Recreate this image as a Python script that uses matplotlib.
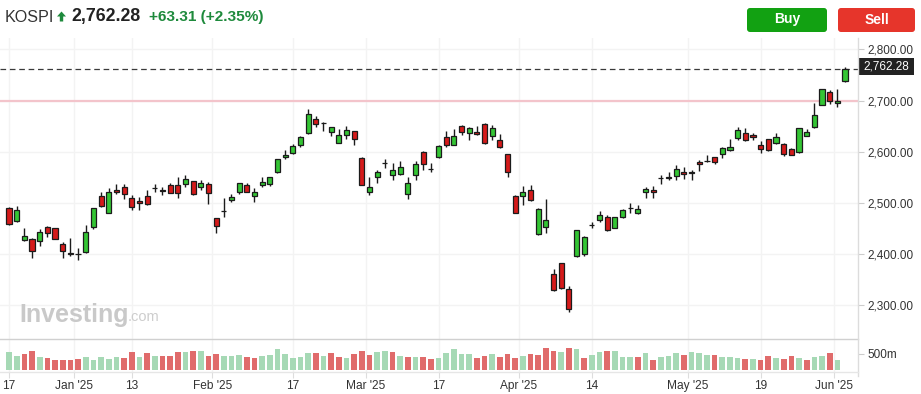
import matplotlib
matplotlib.use("Agg")
import matplotlib.pyplot as plt
from matplotlib.patches import FancyBboxPatch, Rectangle, Polygon
from matplotlib.transforms import IdentityTransform

# ---------------- data ----------------
dates = ["Dec 17", "Dec 18", "Dec 19", "Dec 20", "Dec 23", "Dec 24", "Dec 26", "Dec 27", "Dec 30",
         "Jan 2", "Jan 3", "Jan 6", "Jan 7", "Jan 8", "Jan 9", "Jan 10", "Jan 13", "Jan 14", "Jan 15",
         "Jan 16", "Jan 17", "Jan 20", "Jan 21", "Jan 22", "Jan 23", "Jan 24", "Jan 31",
         "Feb 3", "Feb 4", "Feb 5", "Feb 6", "Feb 7", "Feb 10", "Feb 11", "Feb 12", "Feb 13", "Feb 14",
         "Feb 17", "Feb 18", "Feb 19", "Feb 20", "Feb 21", "Feb 24", "Feb 25", "Feb 26", "Feb 27", "Feb 28",
         "Mar 4", "Mar 5", "Mar 6", "Mar 7", "Mar 10", "Mar 11", "Mar 12", "Mar 13", "Mar 14", "Mar 17",
         "Mar 18", "Mar 19", "Mar 20", "Mar 21", "Mar 24", "Mar 25", "Mar 26", "Mar 27", "Mar 28", "Mar 31",
         "Apr 1", "Apr 2", "Apr 3", "Apr 4", "Apr 7", "Apr 8", "Apr 9", "Apr 10", "Apr 11", "Apr 14",
         "Apr 15", "Apr 16", "Apr 17", "Apr 18", "Apr 21", "Apr 22", "Apr 23", "Apr 24", "Apr 25", "Apr 28",
         "Apr 29", "Apr 30", "May 2", "May 7", "May 8", "May 9", "May 12", "May 13", "May 14", "May 15",
         "May 16", "May 19", "May 20", "May 21", "May 22", "May 23", "May 26", "May 27", "May 28", "May 29",
         "May 30", "Jun 2", "Jun 4"]

opens = [2489, 2464, 2427, 2430, 2425, 2452, 2450, 2420, 2401,
         2399, 2403, 2453, 2514, 2481, 2526, 2530, 2509, 2504, 2513,
         2528, 2525, 2534, 2534, 2536, 2542, 2530, 2536,
         2470, 2483, 2505, 2522, 2534, 2513, 2534, 2536, 2560, 2589,
         2597, 2614, 2636, 2664, 2656, 2638, 2618, 2632, 2640, 2588,
         2522, 2550, 2578, 2554, 2556, 2518, 2554, 2599, 2567, 2589,
         2628, 2614, 2650, 2636, 2638, 2655, 2630, 2622, 2595, 2514,
         2513, 2526, 2438, 2453, 2360, 2382, 2331, 2395, 2400, 2456,
         2466, 2473, 2451, 2473, 2490, 2481, 2522, 2525, 2548, 2551,
         2552, 2561, 2558, 2579, 2581, 2589, 2595, 2603, 2626, 2636,
         2632, 2614, 2624, 2618, 2616, 2605, 2600, 2631, 2649, 2692,
         2716, 2695, 2739]

highs = [2491, 2493, 2451, 2431, 2448, 2455, 2451, 2424, 2431,
         2411, 2456, 2490, 2522, 2528, 2536, 2536, 2515, 2512, 2526,
         2537, 2530, 2539, 2550, 2554, 2543, 2544, 2541,
         2471, 2509, 2517, 2538, 2539, 2528, 2550, 2550, 2585, 2603,
         2615, 2631, 2684, 2670, 2658, 2648, 2644, 2650, 2641, 2589,
         2550, 2564, 2586, 2577, 2581, 2550, 2581, 2601, 2577, 2613,
         2640, 2644, 2652, 2649, 2650, 2657, 2652, 2635, 2596, 2515,
         2532, 2534, 2490, 2508, 2370, 2383, 2338, 2447, 2435, 2462,
         2484, 2477, 2473, 2488, 2499, 2495, 2530, 2532, 2554, 2560,
         2573, 2571, 2564, 2584, 2593, 2590, 2610, 2624, 2648, 2646,
         2636, 2621, 2625, 2636, 2617, 2607, 2646, 2644, 2695, 2723,
         2720, 2723, 2766]

lows = [2456, 2463, 2425, 2391, 2416, 2434, 2429, 2391, 2395,
        2388, 2402, 2449, 2492, 2480, 2518, 2508, 2486, 2485, 2495,
        2522, 2516, 2519, 2509, 2530, 2516, 2525, 2498,
        2440, 2473, 2501, 2518, 2522, 2502, 2530, 2532, 2559, 2586,
        2596, 2609, 2635, 2649, 2641, 2630, 2617, 2624, 2614, 2534,
        2516, 2538, 2569, 2544, 2555, 2508, 2544, 2564, 2561, 2588,
        2610, 2613, 2632, 2622, 2632, 2616, 2622, 2607, 2551, 2480,
        2496, 2503, 2437, 2440, 2328, 2331, 2286, 2393, 2396, 2451,
        2463, 2445, 2450, 2470, 2481, 2479, 2510, 2510, 2537, 2545,
        2545, 2547, 2544, 2562, 2579, 2575, 2588, 2602, 2622, 2621,
        2622, 2597, 2601, 2616, 2591, 2593, 2598, 2630, 2647, 2691,
        2693, 2688, 2737]

closes = [2458, 2485, 2436, 2405, 2442, 2440, 2430, 2405, 2399.5,
          2399, 2442, 2489, 2493, 2521, 2522, 2517, 2491, 2499, 2497,
          2528, 2523, 2520, 2519, 2547, 2517, 2538, 2519,
          2454, 2483, 2511, 2538, 2522, 2521.3, 2541, 2550, 2585, 2593,
          2612, 2628, 2673, 2655, 2656, 2648, 2632, 2642, 2624, 2534,
          2530, 2560, 2577, 2565, 2571, 2538, 2575, 2575, 2567, 2612,
          2614, 2630, 2638, 2646, 2634, 2618, 2646, 2609, 2560, 2481,
          2522, 2506, 2488, 2466, 2329, 2334, 2293, 2446, 2433, 2456,
          2477, 2447, 2472, 2485, 2489, 2487, 2527, 2522, 2548, 2549,
          2567, 2557, 2561, 2575, 2581, 2579, 2608, 2610, 2642, 2622,
          2628, 2605, 2603, 2628, 2595, 2593, 2646, 2638, 2671, 2722,
          2700, 2699, 2762.28]

# volume in millions of shares
volumes = [554, 436, 490, 586, 395, 363, 300, 300, 300,
           331, 395, 300, 395, 331, 395, 363, 554, 395, 522,
           436, 436, 436, 554, 554, 586, 586, 436,
           490, 436, 436, 459, 395, 363, 436, 459, 650, 490,
           363, 395, 522, 522, 436, 522, 395, 363, 490, 586,
           459, 554, 586, 554, 436, 395, 395, 395, 331, 363,
           522, 650, 490, 490, 363, 436, 490, 395, 490, 363,
           436, 490, 459, 681, 586, 554, 681, 650, 363, 459,
           554, 586, 586, 395, 395, 395, 522, 300, 395, 436,
           522, 459, 554, 522, 459, 459, 395, 395, 363, 331,
           331, 300, 427, 363, 331, 427, 363, 300, 395, 427,
           522, 300, 0]
# volume bar colour: 1 = up (green), 0 = down (red)
vol_up = [1, 1, 0, 0, 1, 0, 0, 0, 0,
          0, 1, 1, 1, 1, 1, 0, 0, 1, 0,
          1, 0, 0, 0, 1, 0, 1, 0,
          0, 1, 1, 1, 0, 0, 1, 1, 1, 1,
          1, 1, 1, 0, 1, 0, 0, 1, 0, 0,
          0, 1, 1, 0, 1, 0, 1, 0, 0, 1,
          1, 1, 1, 1, 0, 0, 1, 0, 0, 0,
          1, 0, 0, 0, 0, 1, 0, 1, 0, 1,
          1, 0, 1, 1, 1, 0, 1, 0, 1, 1,
          1, 0, 1, 1, 1, 0, 1, 1, 1, 0,
          1, 0, 0, 1, 0, 0, 1, 0, 1, 1,
          0, 1, 1]

price_ticks = [2300, 2400, 2500, 2600, 2700, 2800]
x_tick_labels = ["17", "Jan '25", "13", "Feb '25", "17", "Mar '25", "17", "Apr '25", "14", "May '25", "19", "Jun '25"]
x_tick_dates = ["Dec 17", "Jan 2", "Jan 13", "Feb 3", "Feb 17", "Mar 4", "Mar 17", "Apr 1", "Apr 14", "May 2", "May 19", "Jun 2"]
x_tick_is_month = [0, 1, 0, 1, 0, 1, 0, 1, 0, 1, 0, 1]

symbol = "KOSPI"
last_price = 2762.28
prev_close = 2698.97
change = 63.31
change_pct = 2.35

# ---------------- figure ----------------
W, H = 921, 394
fig = plt.figure(figsize=(W / 100, H / 100), dpi=100)
fig.patch.set_facecolor("white")
plt.rcParams["font.family"] = ["Liberation Sans", "DejaVu Sans"]

def fx(x):
    return x / W

def fy(y):
    return 1 - y / H

# pixel layout
x0_px, x1_px = 0, 858
price_top, price_bot = 38, 339
vol_top, vol_bot = 339, 372
first_px, step_px = 9.0, 7.67

xlim = ((x0_px - first_px) / step_px, (x1_px - first_px) / step_px)

# price scale: 2600 at y=151.7 px, 0.511 px per point
def price_at(ypx):
    return 2600 - (ypx - 151.7) / 0.511

ax = fig.add_axes([fx(x0_px), fy(price_bot), fx(x1_px - x0_px), (price_bot - price_top) / H])
axv = fig.add_axes([fx(x0_px), fy(vol_bot), fx(x1_px - x0_px), (vol_bot - vol_top) / H])

ax.set_xlim(*xlim)
ax.set_ylim(price_at(price_bot), price_at(price_top))
axv.set_xlim(*xlim)
# volume: baseline at y=369.7, 500M at y=354
vpp = 500 / 15.7
axv.set_ylim(-(vol_bot - 369.7) * vpp, (369.7 - vol_top) * vpp)

n = len(closes)
xs = list(range(n))
grid_c = "#f3f3f3"

# tick positions
tick_pos = []
for d, m in zip(x_tick_dates, x_tick_is_month):
    i = dates.index(d)
    tick_pos.append(i - 0.5 if m else i)

for a in (ax, axv):
    for s in a.spines.values():
        s.set_visible(False)
    a.set_facecolor("none")
    for t in tick_pos:
        a.axvline(t, color=grid_c, lw=1, zorder=0)

# horizontal grid
for p in price_ticks:
    ax.axhline(p, color=grid_c, lw=1, zorder=0)

# previous close line (pink) and last price dashed line
ax.axhline(prev_close, color="#f3c4cb", lw=1.6, zorder=1)
ax.axhline(last_price, color="#3a3a3a", lw=0.9, dashes=(4.5, 3), zorder=1)

# candles
up_c, dn_c, edge_c = "#34c534", "#d51a1a", "#1b1b1b"
body_w = 0.66
for i in xs:
    o, h, l, c = opens[i], highs[i], lows[i], closes[i]
    ax.vlines(i, l, h, color=edge_c, lw=1.0, zorder=2)
    col = up_c if c >= o else dn_c
    ax.bar(i, c - o, bottom=o, width=body_w, color=col, edgecolor=edge_c, linewidth=0.9, zorder=3)

# volume bars
vcol = ["#a6d9b5" if u else "#e06b6b" for u in vol_up]
axv.bar(xs, volumes, width=0.74, color=vcol, zorder=2, linewidth=0)

# axes ticks
ax.set_xticks([])
ax.yaxis.tick_right()
ax.set_yticks(price_ticks)
ax.set_yticklabels([f"{p:,.2f}" for p in price_ticks])
ax.tick_params(axis="y", length=4, width=0.8, color="#cccccc", pad=3, labelsize=8.5, labelcolor="#333333")

axv.yaxis.tick_right()
axv.set_yticks([500])
axv.set_yticklabels(["500m"])
axv.tick_params(axis="y", length=4, width=0.8, color="#cccccc", pad=3, labelsize=8.5, labelcolor="#333333")
axv.set_xticks(tick_pos)
axv.set_xticklabels(x_tick_labels)
axv.tick_params(axis="x", length=4, width=0.8, color="#dddddd", pad=1.5, labelsize=8.6, labelcolor="#333333")

# separators
fig.add_artist(plt.Line2D([fx(0), fx(858)], [fy(339), fy(339)], color="#d0d0d0", lw=1))
fig.add_artist(plt.Line2D([fx(858), fx(858)], [fy(38), fy(376)], color="#dcdcdc", lw=1))
fig.add_artist(plt.Line2D([fx(0), fx(858)], [fy(372), fy(372)], color="#e6e6e6", lw=1))

# last price label box
ident = IdentityTransform()
fig.add_artist(Rectangle((858, H - 75), 56, 17, transform=ident, facecolor="#222222", edgecolor="none"))
fig.text(fx(886), fy(66.5), f"{last_price:,.2f}", color="white", fontsize=8.5, ha="center", va="center")

# watermark
fig.text(fx(19), fy(315), "Investing", color="#c9c9c9", fontsize=18, fontweight="bold", ha="left", va="center")
fig.text(fx(127.5), fy(317), ".com", color="#cdcdcd", fontsize=10.5, ha="left", va="center")

# header
fig.text(fx(5), fy(17), symbol, color="#333333", fontsize=11.6, ha="left", va="center")
arrow = Polygon([(61.5, H - 11.5), (57, H - 16.5), (59.8, H - 16.5), (59.8, H - 21.5), (63.2, H - 21.5), (63.2, H - 16.5), (66, H - 16.5)],
                closed=True, transform=ident, facecolor="#1e8a3c", edgecolor="none")
fig.add_artist(arrow)
fig.text(fx(71.5), fy(17), f"{last_price:,.2f}", color="#222222", fontsize=12.8, fontweight="bold", ha="left", va="center")
fig.text(fx(149), fy(17), f"+{change:.2f} (+{change_pct:.2f}%)", color="#1e8a3c", fontsize=11.1, fontweight="bold", ha="left", va="center")

# buttons
for (bx, bw, col, label) in [(747, 80, "#12a112", "Buy"), (838, 77, "#e6352b", "Sell")]:
    fig.add_artist(FancyBboxPatch((bx, H - 32), bw, 24, boxstyle="round,pad=0,rounding_size=3",
                                  transform=ident, facecolor=col, edgecolor="none"))
    fig.text(fx(bx + bw / 2), fy(19.5), label, color="white", fontsize=10, fontweight="bold", ha="center", va="center")

fig.savefig("out.png", dpi=100, facecolor="white")
